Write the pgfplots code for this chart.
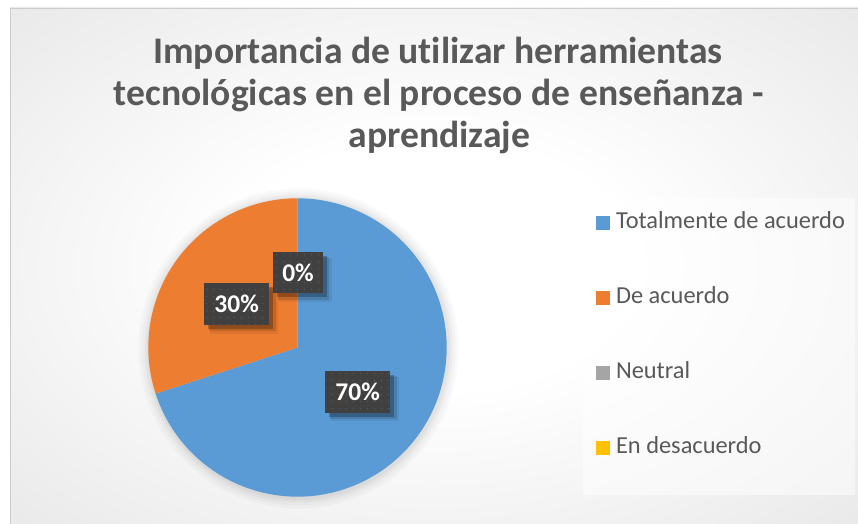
\documentclass[border=0pt]{standalone}
\usepackage{fontspec}
\setmainfont[Ligatures={NoCommon}]{Carlito}
\usepackage{pgfplots}
\pgfplotsset{compat=1.18}
\usetikzlibrary{shadows,patterns}

\definecolor{pieblue}{HTML}{5B9BD5}
\definecolor{pieorange}{HTML}{ED7D31}
\definecolor{piegray}{HTML}{A5A5A5}
\definecolor{pieyellow}{HTML}{FFC000}
\definecolor{txtgray}{HTML}{595959}
\definecolor{lblbox}{HTML}{404040}
\definecolor{lbldot}{HTML}{555555}
\definecolor{bgedge}{HTML}{C6C6C6}
\definecolor{bgmid}{HTML}{DCDCDC}

\pgfdeclareradialshading{chartbg}{\pgfpoint{0bp}{0bp}}{color(0bp)=(white); color(12bp)=(white); color(50bp)=(bgmid); color(72bp)=(bgedge)}
\pgfdeclarepatternformonly{lbldots}{\pgfqpoint{-1bp}{-1bp}}{\pgfqpoint{8bp}{8bp}}{\pgfqpoint{7bp}{7bp}}{\pgfpathcircle{\pgfqpoint{3.5bp}{3.5bp}}{0.9bp}\pgfusepath{fill}}

\tikzset{lbl/.style={fill=lblbox, postaction={pattern=lbldots, pattern color=lbldot},
  text=white, font=\fontsize{25.5bp}{30bp}\selectfont\bfseries,
  minimum height=41.7bp, inner xsep=10bp, inner ysep=0pt,
  drop shadow={shadow xshift=7bp, shadow yshift=-7bp, shadow scale=1.06, fill=black, opacity=0.07},
  drop shadow={shadow xshift=5.5bp, shadow yshift=-5.5bp, shadow scale=1.03, fill=black, opacity=0.12},
  drop shadow={shadow xshift=4bp, shadow yshift=-4bp, fill=black, opacity=0.25}}}

\begin{document}
\begin{tikzpicture}[x=1bp,y=1bp]
\useasboundingbox (0,0) rectangle (858,524);
\fill[white] (0,0) rectangle (858,524);
\shade[shading=chartbg] (10,0) rectangle (858,516);
\draw[line width=0.8bp, color=black!20] (10.4,0) -- (10.4,515.6) -- (858,515.6);
\fill[white, opacity=0.5] (583,29) rectangle (855,326);

\begin{axis}[at={(0,0)}, anchor=south west,
  width=858bp, height=524bp, scale only axis,
  xmin=0, xmax=858, ymin=0, ymax=524,
  hide axis, clip=false,
  legend cell align=left,
  legend image code/.code={\fill[#1] (0bp,-7bp) rectangle (14bp,7bp);},
  legend style={at={(axis cs:596,312)}, anchor=north west,
    draw=none, fill=none, inner sep=0pt, outer sep=0pt,
    row sep=52bp, column sep=6bp, font=\fontsize{24.4bp}{28bp}\selectfont, text=txtgray,
    nodes={inner sep=0pt, text height=17bp, text depth=6bp}},
]
% soft shadow around the pie
\fill[black, opacity=0.025] (axis cs:298.5,175.5) circle[radius=160bp];
\fill[black, opacity=0.025] (axis cs:298.5,175.5) circle[radius=157bp];
\fill[black, opacity=0.03] (axis cs:298.5,175.5) circle[radius=154bp];
\fill[black, opacity=0.03] (axis cs:298.5,175.5) circle[radius=151.5bp];

% values: 70, 30, 0, 0 (percent); 1 percent = 3.6 degrees, starting at 12 o'clock
\addplot[fill=pieblue, draw=none, domain=90-3.6*70:90, samples=151, variable=\t]
  ({297.5+149.2*cos(\t)}, {176.5+149.2*sin(\t)}) -- (axis cs:297.5,176.5) -- cycle;
\addlegendentry{Totalmente de acuerdo}
\addplot[fill=pieorange, draw=none, domain=90:90+3.6*30, samples=71, variable=\t]
  ({297.5+149.2*cos(\t)}, {176.5+149.2*sin(\t)}) -- (axis cs:297.5,176.5) -- cycle;
\addlegendentry{De acuerdo}
\addlegendimage{fill=piegray, draw=none}
\addlegendentry{Neutral}
\addlegendimage{fill=pieyellow, draw=none}
\addlegendentry{En desacuerdo}

\node[lbl] at (axis cs:357.7,132.1) {70\%};
\node[lbl] at (axis cs:236.7,219.8) {30\%};
\node[lbl, inner xsep=9.3bp] at (axis cs:298,251.5) {0\%};

\begin{scope}[font=\fontsize{37.6bp}{45bp}\selectfont\bfseries, text=txtgray]
\node[anchor=base, inner sep=0pt] at (axis cs:438,460) {Importancia de utilizar herramientas};
\node[anchor=base, inner sep=0pt] at (axis cs:439,418) {tecnológicas en el proceso de enseñanza -};
\node[anchor=base, inner sep=0pt] at (axis cs:439.5,376) {aprendizaje};
\end{scope}
\end{axis}
\end{tikzpicture}
\end{document}
